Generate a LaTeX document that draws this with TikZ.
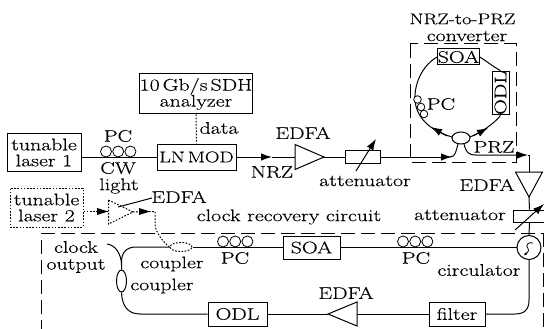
\documentclass[tikz,border=0pt]{standalone}
\usepackage{fontspec}
\setmainfont{Latin Modern Roman}[FakeStretch=1.3,FakeBold=0.25]
\usetikzlibrary{arrows.meta,calc,shapes.geometric}
\tikzset{
  box/.style={draw,line width=1pt,inner sep=0pt,minimum height=#1},
  lab/.style={inner sep=0pt,align=center,font=\fontsize{16.8}{19}\selectfont},
  wire/.style={line width=1pt},
  longdash/.style={line width=1pt,dash pattern=on 14pt off 6pt},
  dots/.style={line width=1pt,dash pattern=on 1.6pt off 1.6pt},
  headed/.style={-{Latex[length=11pt,width=7.5pt]}},
  coil/.style={line width=0.8pt},
  cpl/.style={draw,ellipse,inner sep=0pt,line width=1pt},
}
\newcommand{\coils}[3]{\foreach \k in {0,1,2}{\draw[coil] ({#1+\k*12.2},{#2}) circle[radius=#3];}}
\begin{document}
\begin{tikzpicture}[x=1pt,y=-1pt]
\useasboundingbox (0,0) rectangle (544,329);
% boxes
\node[box=38pt,minimum width=74pt,lab] (laserA) at (44,152.5) {tunable\\[-3pt]laser 1};
\node[box=40pt,minimum width=109pt,lab] (analyzer) at (196,94) {10\hspace{3pt}Gb/s\hspace{3pt}SDH\\[-3pt]analyzer};
\node[box=26pt,minimum width=79pt,lab,font=\fontsize{15.5}{18}\selectfont] (mod) at (196.5,157) {LN\hspace{3pt}MOD};
\node[draw,dots,inner sep=0pt,minimum width=73pt,minimum height=39pt,lab] (laserB) at (46.5,207.5) {tunable\\[-3pt]laser 2};
\node[box=13pt,minimum width=35pt] (attA) at (362.5,157) {};
\node[box=12pt,minimum width=33pt] (attB) at (529.5,216) {};
\node[box=16pt,minimum width=41pt,lab] (soaA) at (458.5,57) {SOA};
\node[box=40pt,minimum width=17pt,lab] (odlA) at (500.5,93) {\rotatebox{90}{ODL}};
\node[box=23pt,minimum width=57pt,lab] (soaB) at (311.5,247.5) {SOA};
\node[box=24pt,minimum width=59pt,lab] (odlB) at (237.5,314) {ODL};
\node[box=24pt,minimum width=56pt,lab] (filter) at (457,314) {filter};
\node[draw,line width=1pt,circle,minimum size=24pt,inner sep=0pt] (circ) at (529,247.5) {};
\draw[line width=0.8pt] (533,243) .. controls (528,241.5) and (525,245.5) .. (528,248.5) .. controls (530,251.5) and (526,253.5) .. (525,254.5);
\draw[line width=0.7pt,-{Latex[length=3pt,width=3pt]}] (527,252.5) -- (524,255.5);
% couplers
\node[cpl,minimum width=18pt,minimum height=12pt] (cplA) at (461,138) {};
\node[cpl,dots,minimum width=22pt,minimum height=9pt] (cplB) at (181,247) {};
\node[cpl,minimum width=10pt,minimum height=22pt] (cplC) at (121.5,281) {};
% amplifier triangles
\coordinate (ampAin) at (295,157); \coordinate (ampAout) at (324,157);
\draw[wire] (295,144.5) -- (ampAout) -- (295,169.5) -- cycle;
\coordinate (ampBin) at (529,172); \coordinate (ampBout) at (529,197);
\draw[wire] (515.5,172) -- (ampBout) -- (542.5,172) -- cycle;
\coordinate (ampCin) at (357,314); \coordinate (ampCout) at (328,314);
\draw[wire] (357,302) -- (ampCout) -- (357,326) -- cycle;
\coordinate (ampDin) at (108.5,212); \coordinate (ampDout) at (133,212);
\draw[dots] (108.5,200) -- (ampDout) -- (108.5,224) -- cycle;
% upper chain
\draw[wire] (laserA.east |- mod.west) -- (mod.west);
\coils{106}{151.5}{5.5}
\draw[dots] (analyzer.south) -- (mod.north);
\coordinate (mA) at (272,157);
\draw[wire,headed] (mod.east) -- (mA);
\draw[wire] (mA) -- (ampAin);
\draw[wire] (ampAout) -- (attA.west);
\coordinate (attAa) at (356,171); \coordinate (attAb) at (376,139);
\draw[wire,headed] (attAa) -- (attAb);
% converter
\draw[wire,headed] (attA.east) -- (452,157);
\draw[wire] (450,157) .. controls (456,157) and (456,150) .. (458,144);
\coordinate (outA) at (529,155);
\draw[wire,headed] (464,144) .. controls (466,152) and (468,155) .. (476,155) -- (528,155);
\draw[wire] (528,155) -- (outA) -- (ampBin);
\draw[wire] (soaA.west) .. controls (424,64) and (414,82) .. (415,100) .. controls (416,116) and (428,130) .. (452,137);
\draw[wire,headed] (447,136) -- (431,127);
\draw[wire] (soaA.east) .. controls (485,60) and (492,66) .. (odlA.north);
\draw[wire] (odlA.south) .. controls (497,120) and (488,129) .. (470,137);
\draw[wire,headed] (473,136) -- (488,128);
\foreach \p in {(417.5,99.5),(421,107),(424,114)}{\draw[coil,fill=white] \p circle[radius=3.8];}
\draw[longdash] (410,44) rectangle (516,162);
% lower right chain
\draw[wire] (ampBout) -- (attB.north);
\draw[wire] (attB.south) -- (circ.north);
\coordinate (attBa) at (515,230); \coordinate (attBb) at (544,204);
\draw[wire,headed] (attBa) -- (attBb);
\draw[wire] (circ.south) -- (529,300) .. controls (529,310) and (524,314) .. (515,314) -- (filter.east);
\draw[wire] (filter.west) -- (ampCin);
\draw[wire] (ampCout) -- (odlB.east);
\draw[wire] (odlB.west) -- (140,314) .. controls (128,314) and (122,306) .. (cplC.south);
\draw[wire] (cplC.north) -- (121.5,262) .. controls (121.5,252) and (127,247) .. (136,247) -- (cplB.west);
\draw[wire] (121.5,265) .. controls (121.5,255) and (116,245) .. (107,244);
\draw[wire] (cplB.east) -- (soaB.west |- cplB.east);
\draw[wire] (soaB.east) -- (circ.west);
\coils{223}{241.5}{5.5}
\coils{403}{241.5}{5.5}
% tunable laser 2 path
\coordinate (mB) at (108,211.5);
\draw[dots] (laserB.east |- mB) -- (mB);
\draw[draw=none,fill=black] (108,211.5) -- (97,208) -- (97,215) -- cycle;
\draw[dots] (ampDout) -- (155,211.5) -- (155,225) .. controls (156,233) and (163,242) .. (cplB.west);
\draw[draw=none,fill=black] (150,211.5) -- (139,208) -- (139,215) -- cycle;
\coordinate (lead) at (118,207);
\coordinate (leadEnd) at (152,198);
\draw[wire] (lead) -- (leadEnd);
% dashed frame
\draw[longdash] (41,233) -- (544,233);
\draw[longdash] (41,240) -- (41,329);
\draw[longdash] (543,233) -- (543,329);
% labels
\node[lab] (tA) at (118,136) {PC};
\node[lab] (tB) at (118,168) {CW};
\node[lab] (tC) at (119,186) {light};
\node[lab] (tD) at (219,128) {data};
\node[lab] (tE) at (303,133) {EDFA};
\node[lab] (tF) at (272,172) {NRZ};
\node[lab] (tG) at (365,181) {attenuator};
\node[lab,font=\fontsize{15.6}{18}\selectfont] (tH) at (462.5,19) {NRZ-to-PRZ};
\node[lab] (tI) at (467,36) {converter};
\node[lab] (tJ) at (441,104) {PC};
\node[lab] (tK) at (494,147) {PRZ};
\node[lab] (tL) at (487,185) {EDFA};
\node[lab] (tM) at (460,215) {attenuator};
\node[lab] (tN) at (179,197) {EDFA};
\node[lab] (tO) at (289,217) {clock recovery circuit};
\node[lab] (tP) at (76,247) {clock};
\node[lab] (tQ) at (76,266) {output};
\node[lab] (tR) at (172,264) {coupler};
\node[lab] (tS) at (162,286) {coupler};
\node[lab] (tT) at (235,258) {PC};
\node[lab] (tU) at (416,258) {PC};
\node[lab] (tV) at (479,270) {circulator};
\node[lab] (tW) at (346,293) {EDFA};
\end{tikzpicture}
\end{document}
